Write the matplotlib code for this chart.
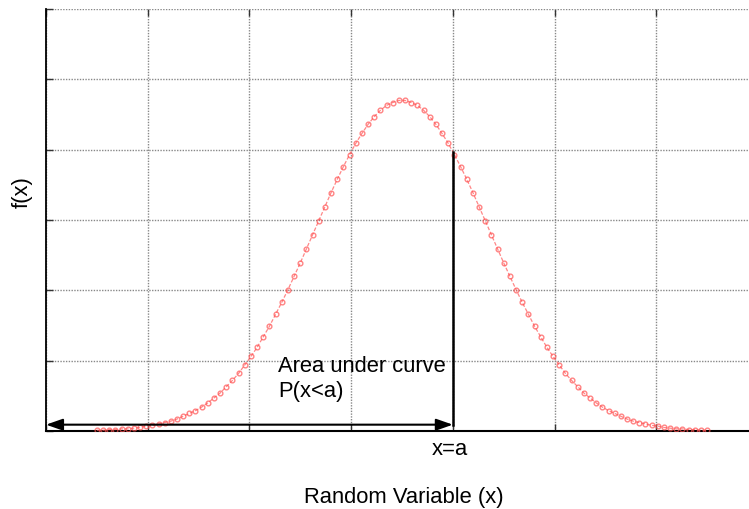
import matplotlib.pyplot as plt
import numpy as np

# sample positions of the density curve (100 markers from 0.5 to 6.5)
x_vals = np.linspace(0.5, 6.5, 100)
# left half of the curve; right half mirrors it
half_vals = [0.01, 0.01, 0.02, 0.02, 0.03, 0.03, 0.04, 0.05, 0.07, 0.08,
             0.10, 0.12, 0.14, 0.17, 0.21, 0.25, 0.29, 0.34, 0.40, 0.47,
             0.54, 0.63, 0.72, 0.82, 0.94, 1.06, 1.19, 1.34, 1.49, 1.66,
             1.83, 2.01, 2.20, 2.39, 2.59, 2.79, 2.99, 3.19, 3.39, 3.58,
             3.76, 3.93, 4.09, 4.23, 4.36, 4.47, 4.56, 4.63, 4.67, 4.70]
y_vals = half_vals + half_vals[::-1]

a_value = 4.0          # x=a
fa_value = 3.96        # f(a)
arrow_y = 0.09

fonts = ['Liberation Sans', 'DejaVu Sans']
fsize = 15.8

fig = plt.figure(figsize=(7.49, 5.10), dpi=100)
ax = fig.add_axes([46 / 749, 78 / 510, 712 / 749, 422 / 510])

ax.plot(x_vals, y_vals, color='#ff5555', alpha=0.7, lw=0.9, ls=(0, (3, 1.5)),
        marker='o', markersize=3.4, markerfacecolor='none',
        markeredgecolor='#ff5050', markeredgewidth=1.0, zorder=3)

# x=a line and the area arrow
ax.plot([a_value, a_value], [arrow_y, fa_value], color='black', lw=1.8, zorder=4)
ax.annotate('', xy=(a_value, arrow_y), xytext=(0, arrow_y),
            arrowprops=dict(arrowstyle='<|-|>,head_length=1.0,head_width=0.35',
                            color='black', lw=1.5, shrinkA=0, shrinkB=0),
            zorder=4)

ax.text(2.28, 0.853, 'Area under curve', fontsize=fsize, family=fonts,
        ha='left', va='baseline')
ax.text(2.28, 0.50, 'P(x<a)', fontsize=fsize, family=fonts,
        ha='left', va='baseline')
ax.text(a_value - 0.03, -0.25, 'x=a', fontsize=fsize, family=fonts,
        ha='center', va='center')

ax.set_xlim(0, 7)
ax.set_ylim(0, 6)
ax.set_xticks(np.arange(0, 8, 1))
ax.set_yticks(np.arange(0, 7, 1))
ax.set_xticklabels([])
ax.set_yticklabels([])
ax.tick_params(direction='in', length=5, width=1, top=True, right=False,
               color='#333333')
ax.grid(True, color='#888888', ls=(0, (1, 1)), lw=1.0)

ax.spines['top'].set_visible(False)
ax.spines['right'].set_visible(False)
ax.spines['left'].set_linewidth(1.3)
ax.spines['bottom'].set_linewidth(1.5)

fig.text(404 / 749, 1 - 498 / 510, 'Random Variable (x)', fontsize=fsize,
         family=fonts, ha='center', va='center')
fig.text(22 / 749, 1 - 192 / 510, 'f(x)', fontsize=fsize, rotation=90,
         family=fonts, ha='center', va='center')

plt.savefig('out.png', dpi=100)
